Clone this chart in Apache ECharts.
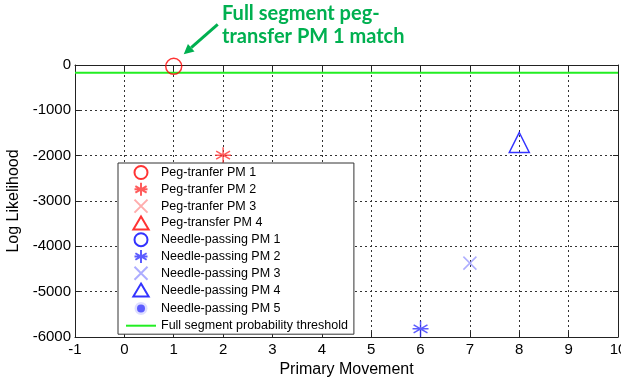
<!DOCTYPE html>
<html>
<head>
<meta charset="utf-8">
<script src="https://cdn.jsdelivr.net/npm/echarts@6/dist/echarts.min.js"></script>
<style>
  html, body { margin: 0; padding: 0; background: #fff; }
  #chart { width: 621px; height: 382px; }
</style>
</head>
<body>
<div id="chart"></div>
<script>
// Log likelihood of each primary-movement model, per movement index
const xTicks = [-1, 0, 1, 2, 3, 4, 5, 6, 7, 8, 9, 10];
const yTicks = [0, -1000, -2000, -3000, -4000, -5000, -6000];

const pegPM1 = [[1, -30]];
const pegPM2 = [[2, -1990]];
const pegPM3 = [];
const pegPM4 = [];
const needlePM1 = [];
const needlePM2 = [[6, -5820]];
const needlePM3 = [[7, -4370]];
const needlePM4 = [[8, -1710]];
const needlePM5 = [];
const threshold = [[-1, -170], [10, -170]];

const seriesNames = [
  'Peg-tranfer PM 1', 'Peg-tranfer PM 2', 'Peg-tranfer PM 3', 'Peg-transfer PM 4',
  'Needle-passing PM 1', 'Needle-passing PM 2', 'Needle-passing PM 3',
  'Needle-passing PM 4', 'Needle-passing PM 5', 'Full segment probability threshold'
];

// stroke-only marker shapes
const asterisk = 'path://M0,-10L0,10M-8.66,-5L8.66,5M-8.66,5L8.66,-5M-10,0L10,0';
const cross = 'path://M-10,-10L10,10M-10,10L10,-10';
const triangle = 'path://M0,-10L10,7L-10,7Z';
const lineIcon = 'path://M0,0L30,0L30,2L0,2Z';

function markerSeries(name, data, symbol, size, color, filled) {
  return {
    name: name,
    type: 'scatter',
    data: data,
    symbol: symbol,
    symbolSize: size,
    itemStyle: filled
      ? { color: color }
      : { color: 'rgba(0,0,0,0)', borderColor: color, borderWidth: 1.5 },
    emphasis: { disabled: true },
    z: 5
  };
}

const chart = echarts.init(document.getElementById('chart'));
const FONT = '"Liberation Sans", Arial, sans-serif';

const legendData = seriesNames.map(function (n, i) {
  if (i === 8) {
    // small dot marker
    return { name: n, icon: 'circle', itemStyle: { color: '#3333ff', borderColor: '#fff', borderWidth: 5 } };
  }
  if (i === 9) {
    return { name: n, icon: lineIcon, itemStyle: { color: '#22ee22' } };
  }
  return { name: n };
});

chart.setOption({
  animation: false,
  grid: { left: 75, right: 3, top: 65, bottom: 45, outerBoundsMode: 'none', containLabel: false },
  xAxis: [{
    type: 'value', min: -1, max: 10, interval: 1,
    axisLine: { show: true, onZero: false, lineStyle: { color: '#222', width: 1 } },
    axisTick: { show: true, inside: true, length: 5, lineStyle: { color: '#222' } },
    axisLabel: { color: '#000', fontFamily: FONT, fontSize: 15, margin: 5 },
    splitLine: { show: true, lineStyle: { color: '#333', type: [2, 3], width: 1 } },
    name: 'Primary Movement', nameLocation: 'middle', nameGap: 24,
    nameTextStyle: { color: '#000', fontFamily: FONT, fontSize: 16 }
  }, {
    type: 'value', min: -1, max: 10, interval: 1, position: 'top',
    axisLine: { show: true, onZero: false, lineStyle: { color: '#222' } },
    axisTick: { show: true, inside: true, length: 5, lineStyle: { color: '#222' } },
    axisLabel: { show: false }, splitLine: { show: false }
  }],
  yAxis: [{
    type: 'value', min: -6000, max: 0, interval: 1000,
    axisLine: { show: true, onZero: false, lineStyle: { color: '#222', width: 1 } },
    axisTick: { show: true, inside: true, length: 5, lineStyle: { color: '#222' } },
    axisLabel: {
      color: '#000', fontFamily: FONT, fontSize: 15, margin: 4,
      formatter: function (v) { return String(v); }
    },
    splitLine: { show: true, lineStyle: { color: '#333', type: [2, 3], width: 1 } },
    name: 'Log Likelihood', nameLocation: 'middle', nameGap: 43,
    nameTextStyle: { color: '#000', fontFamily: FONT, fontSize: 16 }
  }, {
    type: 'value', min: -6000, max: 0, interval: 1000, position: 'right',
    axisLine: { show: true, onZero: false, lineStyle: { color: '#222' } },
    axisTick: { show: true, inside: true, length: 5, lineStyle: { color: '#222' } },
    axisLabel: { show: false }, splitLine: { show: false }
  }],
  legend: {
    orient: 'vertical', left: 118, top: 163,
    data: legendData,
    backgroundColor: '#fff', borderColor: '#333', borderWidth: 1, borderRadius: 0,
    padding: [2, 6, 2, 8], itemGap: 1.8, itemWidth: 30, itemHeight: 13,
    textStyle: { color: '#000', fontFamily: FONT, fontSize: 12.5, lineHeight: 13 },
    selectedMode: false, z: 10
  },
  series: [
    markerSeries(seriesNames[0], pegPM1, 'circle', 16, '#ff0000', false),
    markerSeries(seriesNames[1], pegPM2, asterisk, 16, '#ff3333', false),
    markerSeries(seriesNames[2], pegPM3, cross, 13, '#ff9999', false),
    markerSeries(seriesNames[3], pegPM4, triangle, 20, '#ff0000', false),
    markerSeries(seriesNames[4], needlePM1, 'circle', 16, '#0000ff', false),
    markerSeries(seriesNames[5], needlePM2, asterisk, 16, '#3333ff', false),
    markerSeries(seriesNames[6], needlePM3, cross, 13, '#9999ff', false),
    markerSeries(seriesNames[7], needlePM4, triangle, 20, '#0000ff', false),
    markerSeries(seriesNames[8], needlePM5, 'circle', 5, '#3333ff', true),
    {
      name: seriesNames[9], type: 'line', data: threshold,
      symbol: 'none', lineStyle: { color: '#22ee22', width: 2 },
      itemStyle: { color: '#22ee22' }, emphasis: { disabled: true }, z: 4
    }
  ]
});

// Callout pointing at the best-matching model
const tip = chart.convertToPixel({ xAxisIndex: 0, yAxisIndex: 0 }, pegPM1[0]);
const tipX = tip[0] + 10, tipY = tip[1] - 12;
const tailX = tipX + 34, tailY = tipY - 30;
const ang = Math.atan2(tipY - tailY, tipX - tailX);
const hl = 10, hw = 5;
const bx = tipX - hl * Math.cos(ang), by = tipY - hl * Math.sin(ang);
const px = -Math.sin(ang) * hw, py = Math.cos(ang) * hw;

chart.setOption({
  graphic: [
    {
      type: 'line', shape: { x1: tailX, y1: tailY, x2: bx, y2: by },
      style: { stroke: '#00b050', lineWidth: 3 }
    },
    {
      type: 'polygon', shape: { points: [[tipX, tipY], [bx + px, by + py], [bx - px, by - py]] },
      style: { fill: '#00b050' }
    },
    {
      type: 'text', left: 222, top: 2,
      style: {
        text: 'Full segment peg-\ntransfer PM 1 match',
        fill: '#00b050', font: 'bold 20px Lato, "Open Sans", sans-serif', lineHeight: 23
      }
    }
  ]
});
</script>
</body>
</html>
